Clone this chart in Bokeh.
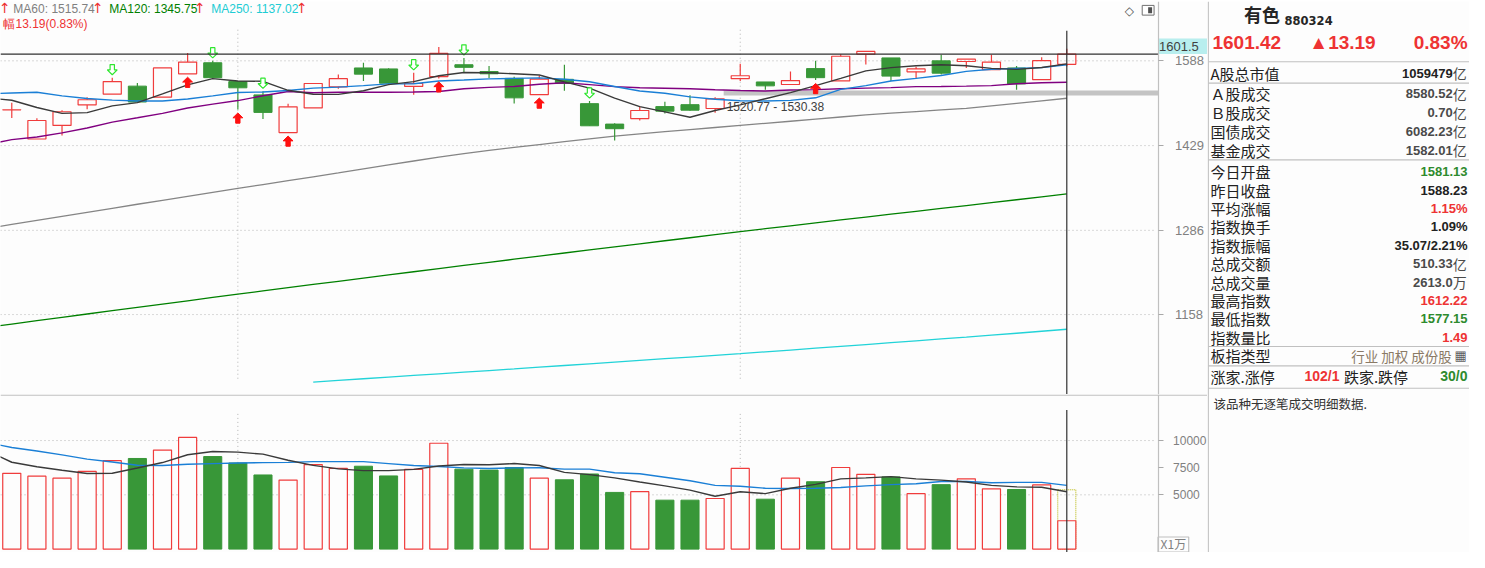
import math
from bokeh.plotting import figure
from bokeh.layouts import row, column
from bokeh.models import Range1d, FixedTicker, NumeralTickFormatter, Span
from bokeh.core.properties import value
from bokeh.embed import file_html
from bokeh.resources import INLINE

# ---------------------------------------------------------------- data
opens = [1494.0, 1440.8, 1465.4, 1503.2, 1523.4, 1538.8, 1517.8, 1562.6, 1584.2, 1547.5,
         1522.1, 1452.3, 1497.7, 1537.4, 1574.0, 1572.1, 1538.3, 1557.0, 1580.3, 1567.0,
         1553.7, 1522.6, 1551.9, 1505.6, 1467.8, 1477.9, 1500.1, 1503.7, 1496.5, 1553.2,
         1546.8, 1541.9, 1572.7, 1548.7, 1601.5, 1593.8, 1566.4, 1588.0, 1586.7, 1570.8,
         1574.0, 1551.3, 1581.13]
highs = [1507.4, 1478.4, 1493.4, 1517.8, 1555.1, 1544.9, 1574.0, 1603.5, 1588.0, 1548.7,
         1528.9, 1505.6, 1543.8, 1561.3, 1584.2, 1573.5, 1564.5, 1615.8, 1593.8, 1577.8,
         1557.0, 1558.8, 1580.3, 1510.5, 1469.5, 1500.1, 1509.2, 1521.5, 1517.8, 1582.2,
         1546.8, 1567.0, 1588.0, 1600.9, 1606.8, 1593.8, 1576.5, 1600.2, 1591.3, 1600.2,
         1577.8, 1595.1, 1612.22]
lows = [1479.0, 1440.8, 1447.1, 1495.2, 1523.4, 1508.7, 1517.8, 1562.6, 1555.1, 1494.6,
        1477.2, 1452.3, 1497.7, 1533.7, 1548.7, 1542.0, 1522.6, 1553.7, 1565.1, 1554.3,
        1506.1, 1522.6, 1530.0, 1464.7, 1438.3, 1474.4, 1487.4, 1492.3, 1488.8, 1548.7,
        1531.9, 1541.9, 1550.5, 1548.7, 1580.9, 1548.7, 1553.2, 1561.3, 1574.0, 1570.8,
        1531.9, 1551.3, 1577.15]
closes = [1494.2, 1474.4, 1490.5, 1512.9, 1547.5, 1508.7, 1574.0, 1585.5, 1555.1, 1535.6,
          1489.3, 1499.6, 1543.8, 1553.2, 1561.9, 1544.4, 1543.8, 1602.9, 1575.2, 1562.6,
          1516.5, 1552.4, 1543.8, 1464.7, 1459.4, 1492.8, 1491.6, 1493.4, 1514.7, 1558.8,
          1539.3, 1549.4, 1555.1, 1597.1, 1606.8, 1558.1, 1572.1, 1563.8, 1591.3, 1585.5,
          1543.1, 1588.23, 1601.42]
volumes = [6983, 6714, 6536, 7161, 8143, 8348, 9125, 10286, 8527, 7929,
           6830, 6357, 7786, 7429, 7634, 6741, 7339, 9750, 7366, 7277,
           7518, 6536, 6384, 6920, 5223, 5286, 4509, 4509, 4661, 7429,
           4598, 6536, 6205, 7518, 6893, 6652, 5107, 5938, 6473, 5554,
           5491, 5911, 2613.0]
vol_forecast_last = 5464

# moving averages, first value belongs to the candle before the visible window
ma_first_index = -1
ma5 = [1516.6, 1512.0, 1498.4, 1487.5, 1488.8, 1501.4, 1507.5, 1523.9, 1541.2, 1553.2,
       1548.7, 1548.1, 1530.8, 1523.4, 1523.0, 1530.0, 1541.6, 1547.5, 1558.9, 1565.1,
       1564.7, 1562.6, 1560.3, 1547.1, 1535.0, 1516.0, 1500.1, 1490.2, 1480.3, 1492.8,
       1503.2, 1514.8, 1526.3, 1539.7, 1553.7, 1568.3, 1574.6, 1578.4, 1580.3, 1578.4,
       1573.2, 1571.3, 1574.9, 1581.9]
ma10 = [1523.9, 1525.8, 1527.1, 1520.2, 1515.2, 1512.2, 1510.5, 1510.7, 1514.4, 1520.2,
        1526.7, 1527.6, 1530.4, 1535.0, 1536.9, 1539.7, 1543.2, 1543.4, 1548.7, 1550.6,
        1552.8, 1553.7, 1554.7, 1551.9, 1547.1, 1538.2, 1529.5, 1525.2, 1518.4, 1513.8,
        1511.1, 1510.5, 1511.8, 1516.6, 1532.6, 1539.7, 1548.7, 1553.7, 1559.4, 1567.3,
        1571.5, 1573.2, 1574.6, 1580.3]
ma20 = [1430.9, 1439.6, 1444.3, 1451.8, 1460.7, 1471.3, 1479.3, 1487.5, 1497.4, 1504.7,
        1511.4, 1520.4, 1528.6, 1526.3, 1527.1, 1527.1, 1527.1, 1527.6, 1528.6, 1533.8,
        1536.4, 1538.2, 1542.5, 1545.3, 1541.6, 1537.8, 1535.6, 1534.7, 1533.8, 1531.9,
        1530.4, 1529.5, 1531.3, 1532.2, 1533.9, 1535.0, 1535.9, 1537.8, 1538.2, 1538.8,
        1539.7, 1543.4, 1545.3, 1546.3]
ma60 = [1289.0, 1295.5, 1302.0, 1308.6, 1315.2, 1321.8, 1328.4, 1335.0, 1341.6, 1348.2,
        1354.8, 1361.4, 1368.0, 1374.6, 1381.3, 1388.2, 1395.0, 1401.9, 1408.8, 1415.0,
        1420.5, 1425.7, 1430.8, 1436.0, 1441.0, 1445.8, 1450.0, 1454.0, 1457.8, 1461.6,
        1465.4, 1469.2, 1473.0, 1476.9, 1480.8, 1484.6, 1487.8, 1490.8, 1493.8, 1496.8,
        1501.5, 1506.3, 1511.0, 1515.74]
ma120 = [1139.6, 1144.4, 1149.2, 1154.0, 1158.8, 1163.6, 1168.4, 1173.2, 1178.0, 1182.9,
         1187.8, 1192.6, 1197.4, 1202.2, 1207.0, 1211.8, 1216.6, 1221.4, 1226.2, 1231.0,
         1235.8, 1240.6, 1245.4, 1250.2, 1255.0, 1259.8, 1264.6, 1269.4, 1274.2, 1279.0,
         1283.8, 1288.6, 1293.3, 1298.0, 1302.7, 1307.4, 1312.1, 1316.8, 1321.5, 1326.3,
         1331.1, 1335.9, 1340.8, 1345.75]
ma250_first_index = 12
ma250 = [1064.7, 1066.9, 1069.1, 1071.3, 1073.5, 1075.7, 1077.9, 1080.1, 1082.3, 1084.6,
         1086.9, 1089.2, 1091.5, 1093.8, 1096.1, 1098.4, 1100.7, 1103.0, 1105.5, 1108.0,
         1110.5, 1113.0, 1115.6, 1118.2, 1120.8, 1123.4, 1126.0, 1128.7, 1131.4, 1134.2,
         1137.02]
vol_ma5 = [9100, 8001, 7589, 7259, 6964, 6991, 7473, 7973, 8688, 8992,
           8929, 8750, 8188, 7715, 7393, 7232, 7232, 7348, 7652, 7795,
           7768, 7884, 7700, 7071, 6857, 6563, 6179, 5822, 5429, 4866,
           5286, 5107, 5607, 5964, 6473, 6563, 6679, 6473, 6357, 6179,
           5875, 5732, 5697, 5286]
vol_ma10 = [9830, 9358, 9037, 8679, 8286, 8018, 7723, 7697, 7813, 7875,
            7929, 7964, 7991, 8054, 8054, 8054, 7875, 7697, 7607, 7482,
            7429, 7482, 7500, 7366, 7366, 7036, 6946, 6625, 6295, 5875,
            5786, 5607, 5580, 5607, 5670, 5822, 5938, 6027, 6232, 6232,
            6116, 6143, 6143, 5875]

buy_signals = [7, 9, 11, 17, 21, 32]
sell_signals = [4, 8, 10, 16, 18, 23]
month_breaks = [9, 29]

price_ticks = [1158, 1286, 1429, 1588]
volume_ticks = [5000, 7500, 10000]
volume_grid_ticks = [5000, 10000]

zone_lo, zone_hi = 1520.77, 1530.38
zone_start = 28.34
cursor_price = 1601.5

stock_name, stock_code = "有色", "880324"
info_labels = ["A股总市值", "Ａ股成交", "Ｂ股成交", "国债成交", "基金成交",
               "今日开盘", "昨日收盘", "平均涨幅", "指数换手", "指数振幅",
               "总成交额", "总成交量", "最高指数", "最低指数", "指数量比"]
amp = highs[-1] - lows[-1]
info_values = ["1059479", "8580.52", "0.70", "6082.23", "1582.01",
               f"{opens[-1]:.2f}", f"{closes[-2]:.2f}", "1.15%", "1.09%",
               f"{amp:.2f}/{amp / closes[-2] * 100:.2f}%",
               "510.33", f"{volumes[-1]:.1f}", f"{highs[-1]:.2f}", f"{lows[-1]:.2f}", "1.49"]
info_units = ["亿", "亿", "亿", "亿", "亿", "", "", "", "", "", "亿", "万", "", "", ""]
board_type = "行业 加权 成份股"
up_count, down_count = "102/1", "30/0"
tick_note = "该品种无逐笔成交明细数据."

# ---------------------------------------------------------------- style / layout
BG = "#fdfdfd"
RED = "#f03c3c"
GREEN = "#389738"
ARROW_RED = "#ff1010"
ARROW_GREEN = "#2ee62e"
GRID = "#b4b4b4"
BORDER = "#c0c0c0"
TXT_RED = "#ee3333"
TXT_GREEN = "#2e8b2e"
TXT_DARK = "#222222"
TXT_GRAY = "#4a4a4a"

N = len(closes)
idx = list(range(N))
ma_x = list(range(ma_first_index, ma_first_index + len(ma5)))
ma250_x = list(range(ma250_first_index, ma250_first_index + len(ma250)))

# reference-pixel helpers (used only for placing decorations)
X0_PX, STEP_PX = 11.4, 25.39
P_REF, Y_REF, PX_PER_LN = 1588.0, 62.0, 826.0
V_ZERO_PX, V_PER_PX = 564.5, 89.29


def ix(px):
    return (px - X0_PX) / STEP_PX


def pr(py):
    return P_REF * math.exp((Y_REF - py) / PX_PER_LN)


def vv(py):
    return (V_ZERO_PX - py) * V_PER_PX


def shift(p, dpx):
    return p * math.exp(dpx / PX_PER_LN)


HALF = 0.36
AXIS_X = ix(1170)          # where the value axis sits
xr = Range1d(ix(0), ix(1220))


def make_fig(**kw):
    base = dict(toolbar_location=None, output_backend="svg", min_border_left=0,
                min_border_top=0, min_border_bottom=0, min_border_right=0,
                background_fill_color=BG, border_fill_color=BG, outline_line_color=None)
    base.update(kw)
    return figure(**base)


def style_axis(ax, ticks, size, standoff):
    ax.fixed_location = AXIS_X
    ax.ticker = FixedTicker(ticks=ticks)
    ax.formatter = NumeralTickFormatter(format="0")
    ax.major_tick_in = 0
    ax.major_tick_out = 5
    ax.minor_tick_line_color = None
    ax.axis_line_color = BORDER
    ax.axis_line_width = 1.2
    ax.major_tick_line_color = "#a8a8a8"
    ax.major_label_text_color = "#808080"
    ax.major_label_text_font = "Liberation Sans"
    ax.major_label_text_font_size = size
    ax.major_label_standoff = standoff


# ---------------------------------------------------------------- top strip
strip = make_fig(width=1469, height=1, x_axis_location=None, y_axis_location=None,
                 background_fill_color="#5c5c5c", border_fill_color="#5c5c5c")
strip.grid.visible = False
strip.scatter([0], [0], alpha=0)

# ---------------------------------------------------------------- price panel
price = make_fig(width=1207, height=393, x_range=xr, y_range=Range1d(pr(405), pr(1)),
                 y_axis_type="log", y_axis_location="right", x_axis_location=None)
style_axis(price.yaxis[0], price_ticks, "13px", 12)
price.grid.visible = False
price.segment(x0=[ix(0)] * len(price_ticks), y0=price_ticks, x1=[ix(1166)] * len(price_ticks),
              y1=price_ticks, line_color=GRID, line_dash="1 3")
price.segment(x0=month_breaks, y0=[pr(30)] * len(month_breaks), x1=month_breaks,
              y1=[pr(390)] * len(month_breaks), line_color=GRID, line_dash="1 3")

# price zone band
price.quad(left=[zone_start], right=[AXIS_X], bottom=[zone_lo], top=[zone_hi],
           fill_color="#c4c4c4", line_color=None)

# long moving averages
price.line(ma_x, ma60, line_color="#858585", line_width=1.3)
price.line(ma_x, ma120, line_color="#008000", line_width=1.3)
price.line(ma250_x, ma250, line_color="#22d3d8", line_width=1.3)

# candles
red = [i for i in idx if closes[i] >= opens[i]]
grn = [i for i in idx if closes[i] < opens[i]]
price.segment(x0=grn, y0=[lows[i] for i in grn], x1=grn, y1=[highs[i] for i in grn],
              line_color=GREEN, line_width=1.2)
price.quad(left=[i - HALF for i in grn], right=[i + HALF for i in grn],
           top=[opens[i] for i in grn], bottom=[closes[i] for i in grn],
           fill_color=GREEN, line_color=GREEN)
price.segment(x0=red, y0=[closes[i] for i in red], x1=red, y1=[highs[i] for i in red],
              line_color=RED, line_width=1.2)
price.segment(x0=red, y0=[lows[i] for i in red], x1=red, y1=[opens[i] for i in red],
              line_color=RED, line_width=1.2)
price.quad(left=[i - HALF for i in red], right=[i + HALF for i in red],
           top=[closes[i] for i in red], bottom=[opens[i] for i in red],
           fill_color=None, line_color=RED, line_width=1.2)

# short moving averages
price.line(ma_x, ma20, line_color="#800080", line_width=1.4)
price.line(ma_x, ma10, line_color="#1a7fd6", line_width=1.4)
price.line(ma_x, ma5, line_color="#3a3a3a", line_width=1.4)

# signal arrows
hw, sw = 5.0 / STEP_PX, 2.2 / STEP_PX
bx, by = [], []
for i in buy_signals:
    L = lows[i]
    bx.append([i, i + hw, i + sw, i + sw, i - sw, i - sw, i - hw])
    by.append([shift(L, -3.5), shift(L, -8.5), shift(L, -8.5), shift(L, -14),
               shift(L, -14), shift(L, -8.5), shift(L, -8.5)])
price.patches(bx, by, fill_color=ARROW_RED, line_color=ARROW_RED)
sx, sy = [], []
for i in sell_signals:
    H = highs[i]
    sx.append([i, i + hw, i + sw, i + sw, i - sw, i - sw, i - hw])
    sy.append([shift(H, 3), shift(H, 8), shift(H, 8), shift(H, 13.5),
               shift(H, 13.5), shift(H, 8), shift(H, 8)])
price.patches(sx, sy, fill_color="white", line_color=ARROW_GREEN, line_width=1.2)

# zone text
price.text(x=[zone_start], y=[zone_lo], text=[f"{zone_lo:.2f} - {zone_hi:.2f}"],
           x_offset=3, y_offset=4, text_baseline="top", text_align="left",
           text_font=value("Liberation Sans"), text_font_size="12px", text_color="#404040")

# crosshair + value tag on the axis
price.segment(x0=[ix(0)], y0=[cursor_price], x1=[AXIS_X], y1=[cursor_price],
              line_color="#303030", line_width=1.2)
price.segment(x0=[N - 1], y0=[pr(31)], x1=[N - 1], y1=[pr(405)], line_color="#303030", line_width=1.2)
price.quad(left=[AXIS_X], right=[ix(1220)], bottom=[cursor_price], top=[shift(cursor_price, 16)],
           fill_color="#b8eeee", line_color=None)
price.text(x=[AXIS_X], y=[cursor_price], text=[f"{cursor_price}"], x_offset=1, y_offset=-8,
           text_baseline="middle", text_align="left", text_font=value("Liberation Sans"),
           text_font_size="13px", text_color="#404040")

# indicator legend
chg = closes[-1] - closes[-2]
pct = chg / closes[-2] * 100
price.text(x=[ix(13), ix(110), ix(213), ix(3)], y=[pr(9), pr(9), pr(9), pr(24)],
           text=[f"MA60: {ma60[-1]:.2f}", f"MA120: {ma120[-1]:.2f}", f"MA250: {ma250[-1]:.2f}",
                 f"幅{chg:.2f}({pct:.2f}%)"],
           text_color=["#808080", "#008000", "#20ccd4", TXT_RED],
           text_font=value("Liberation Sans"), text_font_size="12px",
           text_baseline="middle", text_align="left")
price.text(x=[ix(4.5), ix(98.5), ix(201.5), ix(304.5)], y=[pr(8)] * 4, text=["↑"] * 4,
           text_color=TXT_RED, text_font=value("DejaVu Sans"), text_font_size="14px",
           text_baseline="middle", text_align="center")

# window icons
price.text(x=[ix(1141)], y=[pr(10.5)], text=["◇"], text_color="#555555",
           text_font=value("DejaVu Sans"), text_font_size="12px",
           text_baseline="middle", text_align="center")
price.quad(left=[ix(1154)], right=[ix(1166)], top=[pr(5)], bottom=[pr(15)],
           fill_color="white", line_color="#707070")
price.quad(left=[ix(1160)], right=[ix(1164)], top=[pr(7)], bottom=[pr(13)],
           fill_color="#505050", line_color=None)

# ---------------------------------------------------------------- volume panel
vol = make_fig(width=1207, height=158, x_range=xr, y_range=Range1d(vv(568), vv(405)),
               y_axis_location="right", x_axis_location=None)
style_axis(vol.yaxis[0], volume_ticks, "12px", 10)
vol.grid.visible = False
vol.segment(x0=[ix(0)] * len(volume_grid_ticks), y0=volume_grid_ticks,
            x1=[ix(1166)] * len(volume_grid_ticks), y1=volume_grid_ticks,
            line_color=GRID, line_dash="1 3")
vol.add_layout(Span(location=vv(405.6), dimension="width", line_color=BORDER, line_width=1.2))

vol.segment(x0=month_breaks, y0=[vv(425)] * len(month_breaks), x1=month_breaks,
            y1=[0] * len(month_breaks), line_color=GRID, line_dash="1 3")

vol.vbar(x=[N - 1], top=[vol_forecast_last], bottom=0, width=2 * HALF,
         fill_color=None, line_color="#b4b400", line_dash="1 1")
vol.vbar(x=grn, top=[volumes[i] for i in grn], bottom=0, width=2 * HALF,
         fill_color=GREEN, line_color=GREEN)
vol.vbar(x=red, top=[volumes[i] for i in red], bottom=0, width=2 * HALF,
         fill_color=BG, line_color=RED, line_width=1.2)
vol.line(ma_x, vol_ma10, line_color="#1a7fd6", line_width=1.4)
vol.line(ma_x, vol_ma5, line_color="#3a3a3a", line_width=1.4)
vol.segment(x0=[N - 1], y0=[vv(421)], x1=[N - 1], y1=[vv(568)], line_color="#303030", line_width=1.2)
vol.quad(left=[AXIS_X], right=[ix(1201)], bottom=[vv(567.5)], top=[vv(552)],
         fill_color=BG, line_color=BORDER, line_width=1.2)
vol.text(x=[ix(1185.5)], y=[vv(559)], text=["X1万"], text_align="center", text_baseline="middle",
         text_font=value("Noto Sans CJK SC"), text_font_size="12px", text_color="#808080")

# ---------------------------------------------------------------- info panel
info = make_fig(width=262, height=551, x_range=Range1d(1220, 1485), y_range=Range1d(568, 1),
                x_axis_location=None, y_axis_location=None)
info.grid.visible = False
info.segment(x0=[1220.8], y0=[1], x1=[1220.8], y1=[568], line_color=BORDER, line_width=1.2)
sep_y = [63, 85, 164, 356, 376, 399]
info.segment(x0=[1221] * len(sep_y), y0=sep_y, x1=[1485] * len(sep_y), y1=sep_y,
             line_color=BORDER, line_width=1.2)

CJK = value("Noto Sans CJK SC")
NUM = value("Liberation Sans")
R_EDGE = 1483
U_EDGE = 1468
info.text(x=[1257], y=[14], text=[stock_name], text_font=CJK, text_font_size="18px",
          text_font_style="bold", text_color="#262626", text_baseline="middle")
info.text(x=[1298], y=[21], text=[stock_code], text_font=value("DejaVu Sans"), text_font_size="11.5px",
          text_font_style="bold", text_color="#262626", text_baseline="alphabetic")
info.text(x=[1225, 1323], y=[43, 43], text=[f"{closes[-1]:.2f}", f"▲{chg:.2f}"],
          text_font=NUM, text_font_size="19px", text_font_style="bold", text_color=TXT_RED,
          text_baseline="middle", text_align="left")
info.text(x=[R_EDGE], y=[43], text=[f"{pct:.2f}%"], text_font=NUM, text_font_size="19px",
          text_font_style="bold", text_color=TXT_RED, text_baseline="middle", text_align="right")

row_y = [75, 96, 115.3, 134.6, 154, 176, 195, 214, 233, 252, 271, 290, 309, 327.5, 346.5]
val_colors = [TXT_DARK, TXT_GRAY, TXT_GRAY, TXT_GRAY, TXT_GRAY, TXT_GREEN, TXT_DARK, TXT_RED,
              TXT_DARK, TXT_DARK, TXT_GRAY, TXT_GRAY, TXT_RED, TXT_GREEN, TXT_RED]
info.text(x=[1223] * len(info_labels), y=row_y, text=info_labels, text_font=CJK,
          text_font_size="15px", text_color=TXT_DARK, text_baseline="middle", text_align="left")
info.text(x=[U_EDGE if u else R_EDGE for u in info_units], y=row_y, text=info_values, text_font=NUM,
          text_font_size="13px", text_font_style="bold", text_color=val_colors,
          text_baseline="middle", text_align="right")
uy = [y for y, u in zip(row_y, info_units) if u]
info.text(x=[U_EDGE] * len(uy), y=uy, text=[u for u in info_units if u], text_font=CJK,
          text_font_size="14px", text_color=TXT_GRAY, text_baseline="middle", text_align="left")

info.text(x=[1223, 1223, 1358], y=[365.5, 386.5, 386.5], text=["板指类型", "涨家.涨停", "跌家.跌停"],
          text_font=CJK, text_font_size="15px", text_color=TXT_DARK, text_baseline="middle")
info.text(x=[1467], y=[365.5], text=[board_type], text_font=CJK, text_font_size="13.5px",
          text_color="#8a7a66", text_baseline="middle", text_align="right")
info.text(x=[1476], y=[365.5], text=["▦"], text_font=value("DejaVu Sans"), text_font_size="13px",
          text_color="#606060", text_baseline="middle", text_align="center")
info.text(x=[1318], y=[386.5], text=[up_count], text_font=NUM,
          text_font_size="14px", text_font_style="bold", text_color=TXT_RED,
          text_baseline="middle", text_align="left")
info.text(x=[R_EDGE], y=[386.5], text=[down_count], text_font=NUM,
          text_font_size="14px", text_font_style="bold", text_color=TXT_GREEN,
          text_baseline="middle", text_align="right")
info.text(x=[1226], y=[415], text=[tick_note], text_font=CJK, text_font_size="12.5px",
          text_color="#333333", text_baseline="middle")

layout = column(strip, row(column(price, vol), info))
open("out.html", "w").write(file_html(layout, INLINE))
